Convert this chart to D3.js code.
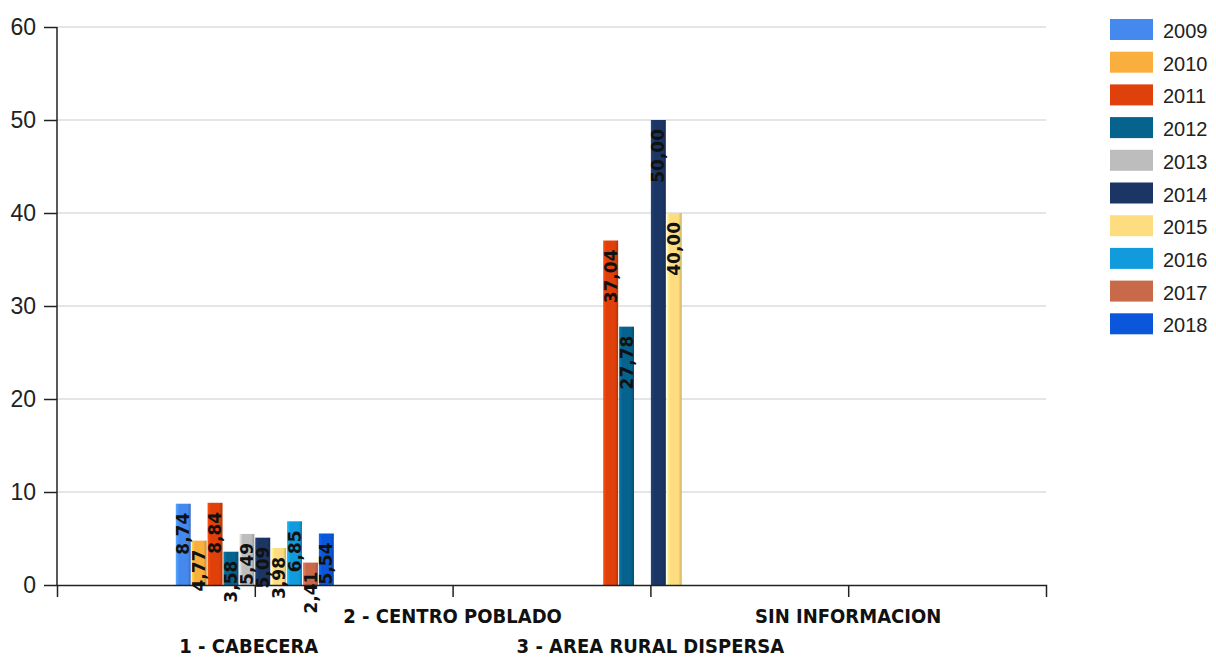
<!DOCTYPE html>
<html>
<head>
<meta charset="utf-8">
<script src="https://cdn.jsdelivr.net/npm/d3@7"></script>
<style>
  body { margin: 0; background: #fff; }
  #chart svg { display: block; }
  .y-axis text { font-family: "Liberation Sans", Arial, sans-serif; font-size: 23px; fill: #222; }
  .axis path, .axis line { stroke: #222; stroke-width: 1.5px; }
  .grid line { stroke: #dcdcdc; stroke-width: 1.5px; }
  .cat-label { font-family: "DejaVu Sans", sans-serif; font-stretch: condensed; font-weight: bold; font-size: 20px; fill: #111; }
  .bar-label { font-family: "DejaVu Sans", sans-serif; font-weight: bold; font-size: 17px; fill: #111; }
  .legend text { font-family: "Liberation Sans", Arial, sans-serif; font-size: 20px; fill: #222; }
</style>
</head>
<body>
<div id="chart"></div>
<script>
(function () {

  const years = ['2009', '2010', '2011', '2012', '2013', '2014', '2015', '2016', '2017', '2018']
  const categories = ['1 - CABECERA', '2 - CENTRO POBLADO', '3 - AREA RURAL DISPERSA', 'SIN INFORMACION']
  const colors = ['#4589ee', '#f9ae3e', '#e0400a', '#05638e', '#bdbdbd', '#1b3664', '#fedd80', '#129bdc', '#c8694a', '#0a57dc']

  // one value per year, null = no bar
  const cabecera = [8.74, 4.77, 8.84, 3.58, 5.49, 5.09, 3.98, 6.85, 2.41, 5.54]
  const centroPoblado = [null, null, null, null, null, null, null, null, null, null]
  const areaRural = [null, null, 37.04, 27.78, null, 50.00, 40.00, null, null, null]
  const sinInformacion = [null, null, null, null, null, null, null, null, null, null]

  const yTicks = [0, 10, 20, 30, 40, 50, 60]

  const rows = [cabecera, centroPoblado, areaRural, sinInformacion]

  const totalWidth = 1216
  const totalHeight = 658
  const margin = { top: 27, right: 170, bottom: 73, left: 57 }
  const width = totalWidth - margin.left - margin.right
  const height = totalHeight - margin.top - margin.bottom

  const svg = d3.select('#chart').append('svg')
      .attr('width', totalWidth)
      .attr('height', totalHeight)

  const defs = svg.append('defs')
  colors.forEach((c, i) => {
    const g = defs.append('linearGradient')
      .attr('id', 'grad' + i)
      .attr('x1', '0%').attr('x2', '100%')
      .attr('y1', '0%').attr('y2', '0%')
    g.append('stop').attr('offset', '0%').attr('stop-color', d3.color(c).brighter(0.6))
    g.append('stop').attr('offset', '22%').attr('stop-color', c)
    g.append('stop').attr('offset', '78%').attr('stop-color', c)
    g.append('stop').attr('offset', '100%').attr('stop-color', d3.color(c).darker(0.6))
  })

  const chart = svg.append('g')
      .attr('transform', 'translate(' + margin.left + ',' + margin.top + ')')

  const xPositionScale = d3.scalePoint()
    .domain(categories)
    .range([0, width])
    .padding(1)

  const yearScale = d3.scaleBand()
    .domain(years)
    .range([-79, 79])
    .paddingInner(0.06)

  const yPositionScale = d3.scaleLinear()
    .domain([0, 60])
    .range([height, 0])

  const colorScale = d3.scaleOrdinal()
    .domain(years)
    .range(colors)

  // gridlines
  chart.append('g')
    .attr('class', 'grid')
    .selectAll('line')
    .data(yTicks.filter(d => d > 0))
    .join('line')
    .attr('x1', 0)
    .attr('x2', width)
    .attr('y1', d => yPositionScale(d))
    .attr('y2', d => yPositionScale(d))

  // flatten into bars
  const bars = []
  rows.forEach((row, ci) => {
    row.forEach((v, yi) => {
      if (v !== null) bars.push({ category: categories[ci], year: years[yi], yearIndex: yi, value: v })
    })
  })

  chart.append('g')
    .selectAll('rect')
    .data(bars)
    .join('rect')
    .attr('x', d => xPositionScale(d.category) + yearScale(d.year))
    .attr('width', yearScale.bandwidth())
    .attr('y', d => yPositionScale(d.value))
    .attr('height', d => height - yPositionScale(d.value))
    .attr('fill', d => 'url(#grad' + d.yearIndex + ')')

  const yAxis = d3.axisLeft(yPositionScale)
    .tickValues(yTicks)
    .tickSize(13)
    .tickPadding(8)
  chart.append('g')
    .attr('class', 'axis y-axis')
    .call(yAxis)
    .call(g => g.select('.domain').attr('d', 'M0,' + height + 'V0'))

  const xAxis = d3.axisBottom(xPositionScale)
    .tickSize(12)
    .tickSizeOuter(12)
    .tickFormat('')
  chart.append('g')
    .attr('class', 'axis x-axis')
    .attr('transform', 'translate(0,' + height + ')')
    .call(xAxis)

  // category labels, staggered in two rows
  chart.append('g')
    .selectAll('text')
    .data(categories)
    .join('text')
    .attr('class', 'cat-label')
    .attr('x', (d, i) => xPositionScale(d) - (i === 0 ? 6 : 0))
    .attr('y', (d, i) => height + (i % 2 === 0 ? 68 : 38))
    .attr('text-anchor', 'middle')
    .text(d => d)

  // value labels, rotated, reading upwards from inside the bar top
  chart.append('g')
    .selectAll('text')
    .data(bars)
    .join('text')
    .attr('class', 'bar-label')
    .attr('text-anchor', 'end')
    .attr('dy', '0.36em')
    .attr('transform', d => 'translate(' +
      (xPositionScale(d.category) + yearScale(d.year) + yearScale.bandwidth() / 2) + ',' +
      (yPositionScale(d.value) + 9) + ') rotate(-90)')
    .text(d => d3.format('.2f')(d.value).replace('.', ','))

  // legend
  const legend = svg.append('g')
    .attr('class', 'legend')
    .attr('transform', 'translate(1110,19)')

  const item = legend.selectAll('g')
    .data(years)
    .join('g')
    .attr('transform', (d, i) => 'translate(0,' + (i * 32.7) + ')')

  item.append('rect')
    .attr('width', 43)
    .attr('height', 21)
    .attr('fill', d => colorScale(d))

  item.append('text')
    .attr('x', 53)
    .attr('y', 19)
    .text(d => d)

})();
</script>
</body>
</html>
